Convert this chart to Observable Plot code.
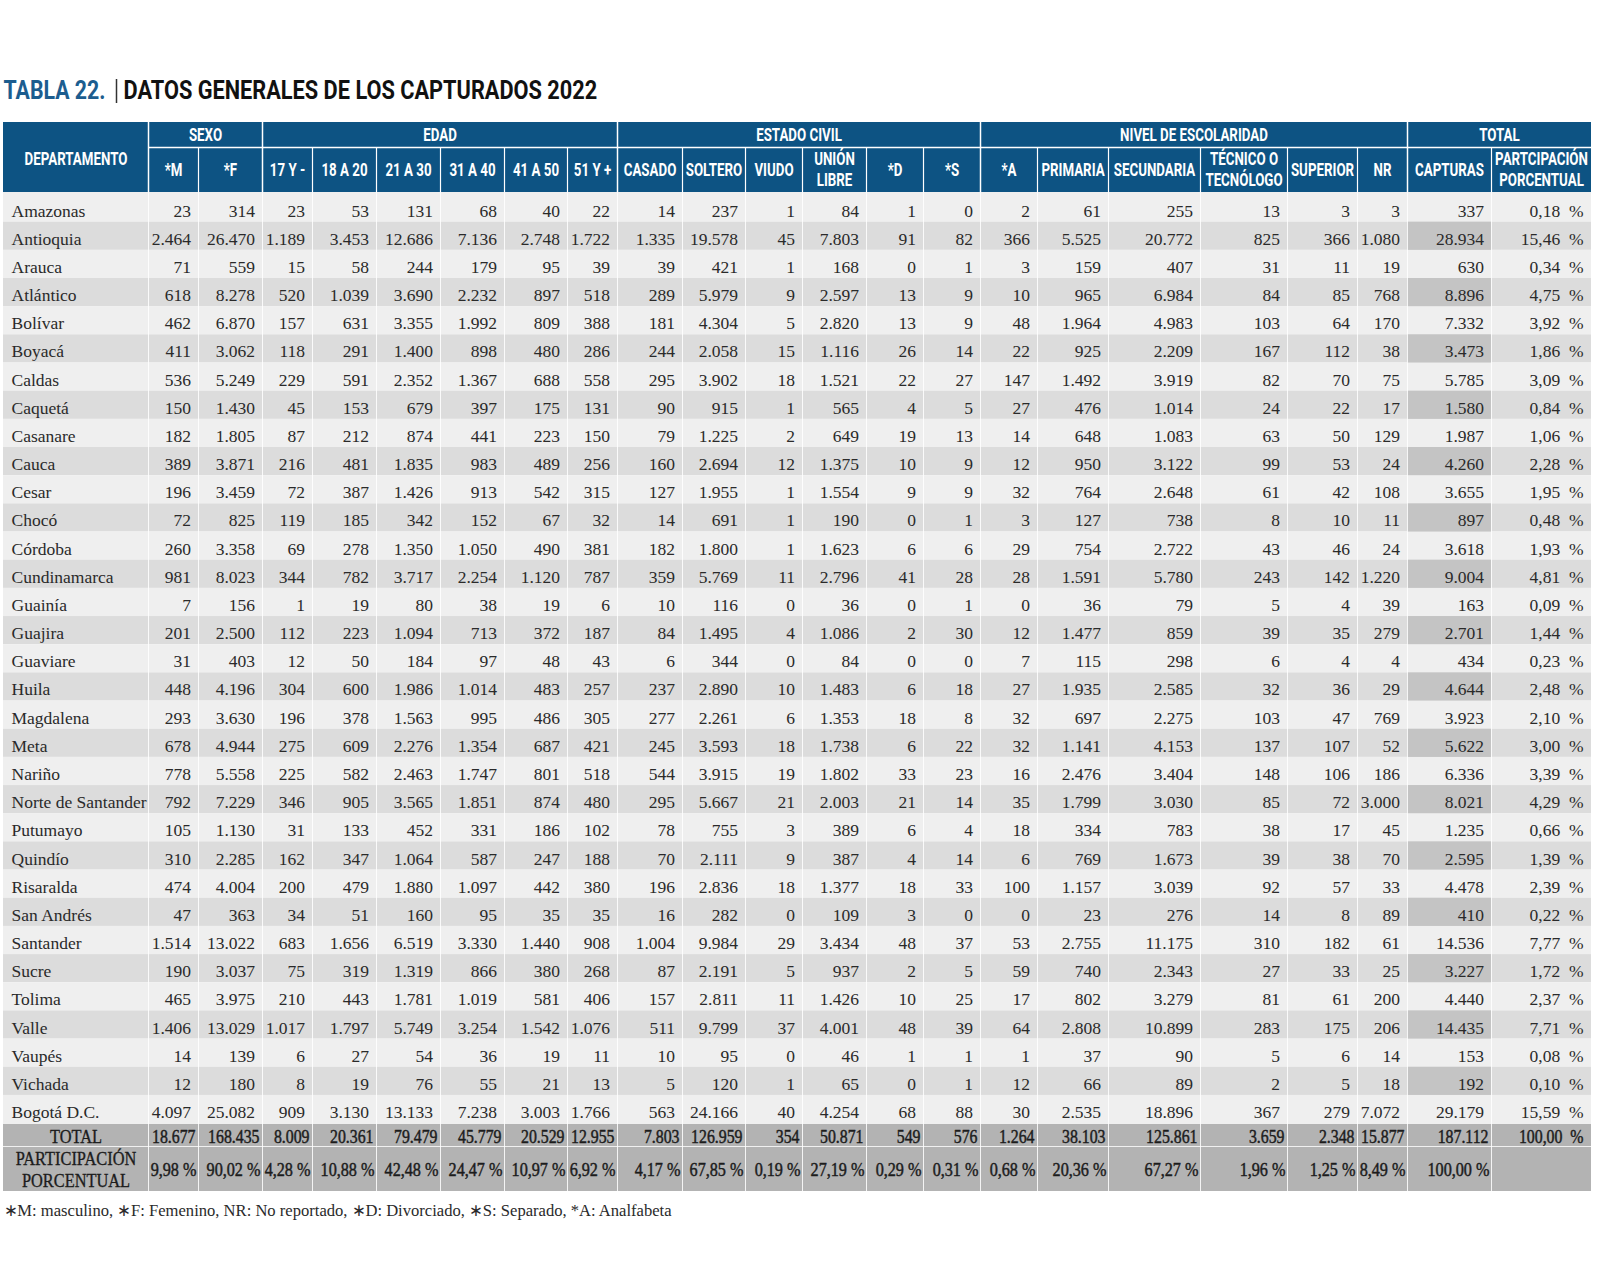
<!DOCTYPE html>
<html lang="es">
<head>
<meta charset="utf-8">
<script src="https://cdn.jsdelivr.net/npm/d3@7"></script>
<script src="https://cdn.jsdelivr.net/npm/@observablehq/plot@0.6"></script>
<style>
  html, body { margin: 0; padding: 0; background: #ffffff; }
  #chart svg { display: block; }
</style>
</head>
<body>
<div id="chart"></div>
<script>
// ---------------- DATA ----------------
const tituloNumero = "TABLA 22.";
const tituloTexto = "DATOS GENERALES DE LOS CAPTURADOS 2022";
const notaPie = "\u2217M: masculino, \u2217F: Femenino, NR: No reportado, \u2217D: Divorciado, \u2217S: Separado, *A: Analfabeta";

const departamentos = ["Amazonas","Antioquia","Arauca","Atlántico","Bolívar","Boyacá","Caldas","Caquetá","Casanare","Cauca","Cesar","Chocó","Córdoba","Cundinamarca","Guainía","Guajira","Guaviare","Huila","Magdalena","Meta","Nariño","Norte de Santander","Putumayo","Quindío","Risaralda","San Andrés","Santander","Sucre","Tolima","Valle","Vaupés","Vichada","Bogotá D.C."];

const grupos = ["SEXO","EDAD","ESTADO CIVIL","NIVEL DE ESCOLARIDAD","TOTAL"];
const grupoColumnas = [2, 6, 6, 6, 2];
const subtitulos = [["*M"],["*F"],["17 Y -"],["18 A 20"],["21 A 30"],["31 A 40"],["41 A 50"],["51 Y +"],["CASADO"],["SOLTERO"],["VIUDO"],["UNIÓN","LIBRE"],["*D"],["*S"],["*A"],["PRIMARIA"],["SECUNDARIA"],["TÉCNICO O","TECNÓLOGO"],["SUPERIOR"],["NR"],["CAPTURAS"],["PARTCIPACIÓN","PORCENTUAL"]];

const masculino   = [23,2464,71,618,462,411,536,150,182,389,196,72,260,981,7,201,31,448,293,678,778,792,105,310,474,47,1514,190,465,1406,14,12,4097];
const femenino    = [314,26470,559,8278,6870,3062,5249,1430,1805,3871,3459,825,3358,8023,156,2500,403,4196,3630,4944,5558,7229,1130,2285,4004,363,13022,3037,3975,13029,139,180,25082];
const edad17      = [23,1189,15,520,157,118,229,45,87,216,72,119,69,344,1,112,12,304,196,275,225,346,31,162,200,34,683,75,210,1017,6,8,909];
const edad18a20   = [53,3453,58,1039,631,291,591,153,212,481,387,185,278,782,19,223,50,600,378,609,582,905,133,347,479,51,1656,319,443,1797,27,19,3130];
const edad21a30   = [131,12686,244,3690,3355,1400,2352,679,874,1835,1426,342,1350,3717,80,1094,184,1986,1563,2276,2463,3565,452,1064,1880,160,6519,1319,1781,5749,54,76,13133];
const edad31a40   = [68,7136,179,2232,1992,898,1367,397,441,983,913,152,1050,2254,38,713,97,1014,995,1354,1747,1851,331,587,1097,95,3330,866,1019,3254,36,55,7238];
const edad41a50   = [40,2748,95,897,809,480,688,175,223,489,542,67,490,1120,19,372,48,483,486,687,801,874,186,247,442,35,1440,380,581,1542,19,21,3003];
const edad51      = [22,1722,39,518,388,286,558,131,150,256,315,32,381,787,6,187,43,257,305,421,518,480,102,188,380,35,908,268,406,1076,11,13,1766];
const casado      = [14,1335,39,289,181,244,295,90,79,160,127,14,182,359,10,84,6,237,277,245,544,295,78,70,196,16,1004,87,157,511,10,5,563];
const soltero     = [237,19578,421,5979,4304,2058,3902,915,1225,2694,1955,691,1800,5769,116,1495,344,2890,2261,3593,3915,5667,755,2111,2836,282,9984,2191,2811,9799,95,120,24166];
const viudo       = [1,45,1,9,5,15,18,1,2,12,1,1,1,11,0,4,0,10,6,18,19,21,3,9,18,0,29,5,11,37,0,1,40];
const unionLibre  = [84,7803,168,2597,2820,1116,1521,565,649,1375,1554,190,1623,2796,36,1086,84,1483,1353,1738,1802,2003,389,387,1377,109,3434,937,1426,4001,46,65,4254];
const divorciado  = [1,91,0,13,13,26,22,4,19,10,9,0,6,41,0,2,0,6,18,6,33,21,6,4,18,3,48,2,10,48,1,0,68];
const separado    = [0,82,1,9,9,14,27,5,13,9,9,1,6,28,1,30,0,18,8,22,23,14,4,14,33,0,37,5,25,39,1,1,88];
const analfabeta  = [2,366,3,10,48,22,147,27,14,12,32,3,29,28,0,12,7,27,32,32,16,35,18,6,100,0,53,59,17,64,1,12,30];
const primaria    = [61,5525,159,965,1964,925,1492,476,648,950,764,127,754,1591,36,1477,115,1935,697,1141,2476,1799,334,769,1157,23,2755,740,802,2808,37,66,2535];
const secundaria  = [255,20772,407,6984,4983,2209,3919,1014,1083,3122,2648,738,2722,5780,79,859,298,2585,2275,4153,3404,3030,783,1673,3039,276,11175,2343,3279,10899,90,89,18896];
const tecnico     = [13,825,31,84,103,167,82,24,63,99,61,8,43,243,5,39,6,32,103,137,148,85,38,39,92,14,310,27,81,283,5,2,367];
const superior    = [3,366,11,85,64,112,70,22,50,53,42,10,46,142,4,35,4,36,47,107,106,72,17,38,57,8,182,33,61,175,6,5,279];
const noReportado = [3,1080,19,768,170,38,75,17,129,24,108,11,24,1220,39,279,4,29,769,52,186,3000,45,70,33,89,61,25,200,206,14,18,7072];
const capturas    = [337,28934,630,8896,7332,3473,5785,1580,1987,4260,3655,897,3618,9004,163,2701,434,4644,3923,5622,6336,8021,1235,2595,4478,410,14536,3227,4440,14435,153,192,29179];
const participacion = [0.18,15.46,0.34,4.75,3.92,1.86,3.09,0.84,1.06,2.28,1.95,0.48,1.93,4.81,0.09,1.44,0.23,2.48,2.10,3.00,3.39,4.29,0.66,1.39,2.39,0.22,7.77,1.72,2.37,7.71,0.08,0.10,15.59];

const totales = [18677,168435,8009,20361,79479,45779,20529,12955,7803,126959,354,50871,549,576,1264,38103,125861,3659,2348,15877,187112];
const totalParticipacion = 100.00;
const participacionTotal = [9.98,90.02,4.28,10.88,42.48,24.47,10.97,6.92,4.17,67.85,0.19,27.19,0.29,0.31,0.68,20.36,67.27,1.96,1.25,8.49,100.00];

// ---------------- LAYOUT (positions / styles) ----------------
const W = 1600, H = 1261;
const bordes = [3,148,198,262,312,376,440,504,567,617,682,745,802,866,923,980,1037,1108,1200,1287,1357,1407,1491,1591];
const L = {headTop: 122, headMid: 147, headBot: 192, rowH: 28.17, textTop: 210.5,
           totTop: 1124, partTop: 1146, partBot: 1191};
L.bandTop = L.textTop - 17;
const C = {head: "#0d5383", light: "#efefef", gray: "#dcdcdc", capt: "#c4c4c4", tot: "#b3b3b3",
           text: "#2a2a2a", titleBlue: "#1c5d8f"};
const F = {
  serif: "Liberation Serif",
  serifLbl: "Liberation Serif, Times New Roman",
  serifTot: "Liberation Serif, Georgia",
  serifPart: "Liberation Serif, Tinos",
  serifNote: "Liberation Serif, serif",
  sans: "Roboto",
  sansTitle: "Roboto, Arial"
};

const series = [masculino, femenino, edad17, edad18a20, edad21a30, edad31a40, edad41a50, edad51,
  casado, soltero, viudo, unionLibre, divorciado, separado, analfabeta, primaria, secundaria,
  tecnico, superior, noReportado, capturas];

const loc = d3.formatLocale({decimal: ",", thousands: ".", grouping: [3], currency: ["", ""]});
const fInt = loc.format(",d");
const fDec = loc.format(".2f");
const n = departamentos.length;
const centro = (a, b) => (bordes[a] + bordes[b]) / 2;

// row bands
const bandas = departamentos.map((d, i) => ({
  i,
  y1: i === 0 ? L.headBot : L.bandTop + i * L.rowH,
  y2: i === n - 1 ? L.totTop : L.bandTop + (i + 1) * L.rowH,
  fill: i % 2 ? C.gray : C.light
}));

// cells
const nombres = departamentos.map((d, i) => ({x: bordes[0] + 8, y: L.textTop + i * L.rowH, text: d}));
const numeros = [];
departamentos.forEach((d, i) => {
  const y = L.textTop + i * L.rowH;
  series.forEach((s, c) => numeros.push({x: bordes[c + 2] - 7.5, y, text: fInt(s[i])}));
  numeros.push({x: bordes[23] - 8, y, text: fDec(participacion[i]) + "\u00a0\u00a0%"});
});
const yTot = (L.totTop + L.partTop) / 2 + 1.5;
const yPart = (L.partTop + L.partBot) / 2 + 1;
const filaTotal = totales.map((v, c) => ({x: bordes[c + 2] - 3, y: yTot, text: fInt(v)}));
filaTotal.push({x: bordes[23] - 8, y: yTot, text: fDec(totalParticipacion) + "\u00a0\u00a0%"});
const filaPart = participacionTotal.map((v, c) => ({x: bordes[c + 2] - 2, y: yPart, text: fDec(v) + " %"}));
const etiquetasTot = [
  {x: centro(0, 1), y: yTot, text: "TOTAL"},
  {x: centro(0, 1), y: yPart - 11, text: "PARTICIPACIÓN"},
  {x: centro(0, 1), y: yPart + 11, text: "PORCENTUAL"}
];

// header labels
const encabezados = [{x: centro(0, 1), y: (L.headTop + L.headBot) / 2 + 2, text: "DEPARTAMENTO"}];
let col = 1;
const bordesGrupo = [bordes[1]];
grupos.forEach((g, k) => {
  const a = col, b = col + grupoColumnas[k];
  encabezados.push({x: centro(a, b), y: (L.headTop + L.headMid) / 2, text: g});
  col = b;
  bordesGrupo.push(bordes[b]);
});
const bordesSub = bordes.slice(2, 23).filter(b => !bordesGrupo.includes(b));
subtitulos.forEach((lines, c) => {
  const yc = (L.headMid + L.headBot) / 2;
  if (lines.length === 1) encabezados.push({x: centro(c + 1, c + 2), y: yc, text: lines[0]});
  else lines.forEach((t, j) => encabezados.push({x: centro(c + 1, c + 2), y: yc + (j === 0 ? -10.5 : 10.5), text: t}));
});

// ---------------- PLOT ----------------
const svg = Plot.plot({
  width: W, height: H, margin: 0,
  x: {type: "identity", axis: null},
  y: {type: "identity", axis: null},
  color: {type: "identity"},
  style: {background: "#ffffff"},
  marks: [
    // stripes
    Plot.rect(bandas, {x1: bordes[0], x2: bordes[23], y1: "y1", y2: "y2", fill: "fill"}),
    Plot.rect(bandas.filter(d => d.i % 2), {x1: bordes[21], x2: bordes[22], y1: "y1", y2: "y2", fill: C.capt}),
    Plot.rect([0], {x1: bordes[0], x2: bordes[23], y1: L.totTop, y2: L.partBot, fill: C.tot}),
    Plot.ruleX(bordes.slice(1, 23), {x: d => d, y1: L.headBot, y2: L.partBot, stroke: "#ffffff", strokeOpacity: 0.85, strokeWidth: 1}),
    Plot.ruleY([L.partTop], {y: d => d, x1: bordes[0], x2: bordes[23], stroke: "#ffffff", strokeOpacity: 0.8, strokeWidth: 1}),
    // header
    Plot.rect([0], {x1: bordes[0], x2: bordes[23], y1: L.headTop, y2: L.headBot, fill: C.head}),
    Plot.ruleY([L.headMid], {y: d => d, x1: bordes[1], x2: bordes[23], stroke: "#ffffff", strokeWidth: 1.5}),
    Plot.ruleX(bordesGrupo.slice(0, -1), {x: d => d, y1: L.headTop, y2: L.headBot, stroke: "#ffffff", strokeWidth: 1.5}),
    Plot.ruleX(bordesSub, {x: d => d, y1: L.headMid, y2: L.headBot, stroke: "#ffffff", strokeWidth: 1.2}),
    Plot.text(encabezados, {x: "x", y: "y", text: "text", fill: "#ffffff", fontFamily: F.sans, fontWeight: 700, fontSize: 18.5, textAnchor: "middle"}),
    // body text
    Plot.text(nombres, {x: "x", y: "y", text: "text", fill: C.text, fontFamily: F.serif, fontSize: 17.5, textAnchor: "start"}),
    Plot.text(numeros, {x: "x", y: "y", text: "text", fill: C.text, fontFamily: F.serif, fontSize: 17.5, textAnchor: "end"}),
    Plot.text(filaTotal, {x: "x", y: "y", text: "text", fill: "#1c1c1c", stroke: "#1c1c1c", strokeWidth: 0.45, fontFamily: F.serifTot, fontSize: 18, textAnchor: "end"}),
    Plot.text(filaPart, {x: "x", y: "y", text: "text", fill: "#1c1c1c", stroke: "#1c1c1c", strokeWidth: 0.45, fontFamily: F.serifPart, fontSize: 18, textAnchor: "end"}),
    Plot.text(etiquetasTot, {x: "x", y: "y", text: "text", fill: "#1c1c1c", stroke: "#1c1c1c", strokeWidth: 0.35, fontFamily: F.serifLbl, fontSize: 19.5, textAnchor: "middle"}),
    // title
    Plot.text([tituloNumero], {x: bordes[0], y: 90.5, text: d => d, fill: C.titleBlue, fontFamily: F.sansTitle, fontWeight: 700, fontSize: 25, textAnchor: "start"}),
    Plot.ruleX([116], {x: d => d, y1: 79, y2: 103, stroke: "#333333", strokeWidth: 1.5}),
    Plot.text([tituloTexto], {x: 123, y: 90.5, text: d => d, fill: "#111111", fontFamily: F.sansTitle, fontWeight: 700, fontSize: 25, textAnchor: "start"}),
    // footnote
    Plot.text([notaPie], {x: bordes[0], y: 1210, text: d => d, fill: C.text, fontFamily: F.serifNote, fontSize: 17, textAnchor: "start"})
  ]
});
document.getElementById("chart").append(svg);

// horizontal compression (narrow typefaces) through a scale transform around each text's anchor
function comprimir(t, f) {
  const tr = t.getAttribute("transform");
  if (tr) {
    t.setAttribute("transform", tr + ` scale(${f.toFixed(4)},1)`);
  } else {
    const x = +(t.getAttribute("x") || 0);
    t.setAttribute("transform", `translate(${x},0) scale(${f.toFixed(4)},1) translate(${-x},0)`);
  }
}
const sel = fam => svg.querySelectorAll(`g[font-family="${fam}"] text`);
sel(F.sans).forEach(t => comprimir(t, 0.72));
sel(F.serifLbl).forEach(t => comprimir(t, 0.84));
sel(F.serifTot).forEach(t => comprimir(t, 0.88));
sel(F.serifPart).forEach(t => comprimir(t, 0.9));
const anchosTitulo = [102, 474];
sel(F.sansTitle).forEach((t, k) => {
  const w = t.getComputedTextLength();
  if (w > 0) comprimir(t, anchosTitulo[k] / w);
});
sel(F.serifNote).forEach(t => {
  const w = t.getComputedTextLength();
  if (w > 0) comprimir(t, 668 / w);
});
</script>
</body>
</html>
